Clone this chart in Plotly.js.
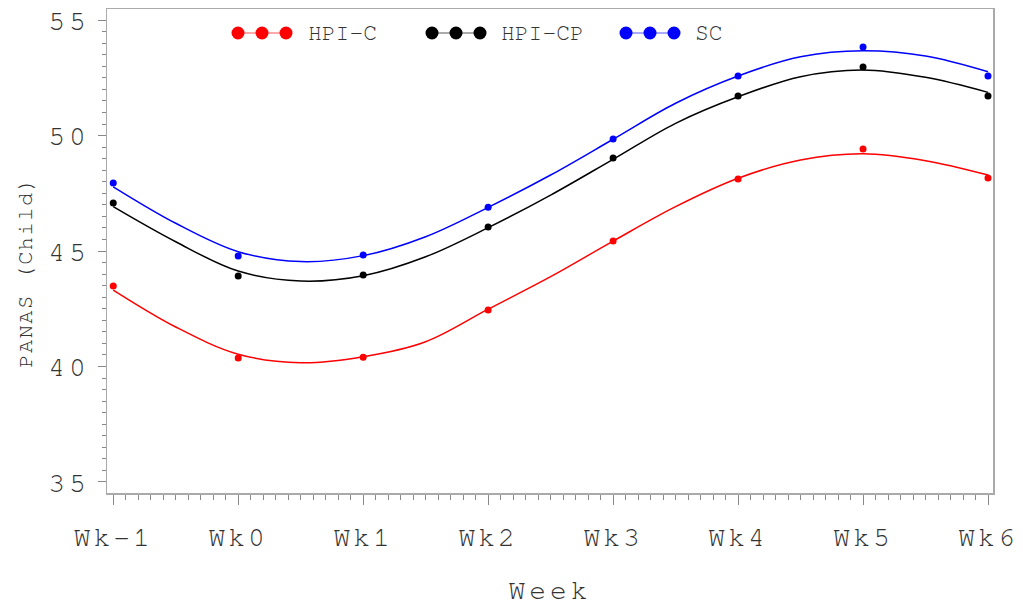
<!DOCTYPE html>
<html><head><meta charset="utf-8">
<script src="https://cdn.plot.ly/plotly-3.0.1.min.js"></script>
<style>
html,body{margin:0;padding:0;background:#fff;}
#chart{width:1023px;height:609px;}
.xtick text{letter-spacing:3px;}
.ytick text{letter-spacing:4px;}
.g-xtitle text{letter-spacing:4px;}
.annotation-text{letter-spacing:0px;}
</style></head><body><div id="chart"></div>
<script>
// Observed weekly means
const weeks = ['Wk-1','Wk0','Wk1','Wk2','Wk3','Wk4','Wk5','Wk6'];
const weekPos = [-1,0,1,2,3,4,5,6];
const hpiC  = [43.48,40.37,40.40,42.45,45.43,48.12,49.42,48.16];
const hpiCP = [47.08,43.92,43.96,46.04,49.03,51.71,52.97,51.71];
const sc    = [47.94,44.78,44.83,46.90,49.85,52.58,53.83,52.58];
// Fitted curves at half-week steps
const fitPos = [-1,-0.5,0,0.5,1,1.5,2,2.5,3,3.5,4,4.5,5,5.5,6];
const fitC  = [43.31,41.71,40.53,40.16,40.42,41.07,42.48,43.89,45.43,46.92,48.15,48.94,49.21,48.91,48.29];
const fitCP = [46.92,45.40,44.13,43.70,43.93,44.75,46.01,47.42,48.97,50.53,51.68,52.55,52.84,52.52,51.87];
const fitSC = [47.78,46.20,44.97,44.54,44.80,45.62,46.89,48.29,49.84,51.40,52.58,53.41,53.67,53.44,52.76];
const seriesNames = ['HPI-C','HPI-CP','SC'];
const yTitle = 'PANAS (Child)';
const xTitle = 'Week';

const colors = ['#ff0000','#000000','#0000ff'];
const legendLine = ['#ffaaaa','#aaaaaa','#aaaaff'];
const obs = [hpiC,hpiCP,sc];
const fits = [fitC,fitCP,fitSC];
const FONT = '"Nimbus Mono PS", "Nimbus Mono L", FreeMono, "Courier New", "Liberation Mono", monospace';
const TXT = '#333';

const traces = [];
for (let i=0;i<3;i++){
  traces.push({x:fitPos, y:fits[i], type:'scatter', mode:'lines',
    line:{color:colors[i], width:1.5, shape:'spline', smoothing:1}, showlegend:false, hoverinfo:'skip'});
  traces.push({x:weekPos, y:obs[i], type:'scatter', mode:'markers', name:seriesNames[i],
    marker:{color:colors[i], size:7}, showlegend:false});
}

// custom legend (pixel layout helpers)
const L=107, T=9, W=886, H=484;
const px = x => (x-L)/W;
const py = y => 1-(y-T)/H;
const legY = 33;
const legMarkers = [[238,262,286],[432,456,480],[626,650,674]];
const legText = [306,499,693];
const shapes = [], annotations = [];
for (let i=0;i<3;i++){
  const m = legMarkers[i];
  shapes.push({type:'line', xref:'paper', yref:'paper', x0:px(m[0]), x1:px(m[2]), y0:py(legY), y1:py(legY),
    line:{color:legendLine[i], width:2}});
  m.forEach(cx=>{
    shapes.push({type:'circle', xref:'paper', yref:'paper', xsizemode:'pixel', ysizemode:'pixel',
      xanchor:px(cx), yanchor:py(legY), x0:-6.5, x1:6.5, y0:-6.5, y1:6.5,
      fillcolor:colors[i], line:{color:colors[i], width:0}});
  });
  annotations.push({xref:'paper', yref:'paper', x:px(legText[i]), y:py(legY), xanchor:'left', yanchor:'middle',
    text:seriesNames[i], showarrow:false, font:{family:FONT, size:23, color:TXT}});
}
// y-axis title placed as rotated annotation
annotations.push({xref:'paper', yref:'paper', x:px(25), y:py(272), xanchor:'center', yanchor:'middle',
  text:yTitle, textangle:-90, showarrow:false, font:{family:FONT, size:22, color:TXT}});

const layout = {
  width:1023, height:609,
  margin:{l:L, r:30, t:T, b:116},
  paper_bgcolor:'#fff', plot_bgcolor:'#fff',
  showlegend:false,
  xaxis:{
    range:[-1.05,6.04], tickmode:'array', tickvals:weekPos, ticktext:weeks,
    ticks:'outside', ticklen:10, tickwidth:1, tickcolor:'#888',
    showline:true, linecolor:'#aaa', linewidth:1.5, mirror:true,
    showgrid:false, zeroline:false, ticklabelstandoff:8,
    minor:{tickmode:'linear', tick0:-1, dtick:0.1, ticks:'outside', ticklen:5, tickcolor:'#888', tickwidth:1, showgrid:false},
    tickfont:{family:FONT, size:28, color:TXT},
    title:{text:xTitle, font:{family:FONT, size:28, color:TXT}, standoff:28}
  },
  yaxis:{
    range:[34.52,55.48], tickmode:'linear', tick0:35, dtick:5,
    ticks:'outside', ticklen:8, tickwidth:1, tickcolor:'#888',
    showline:true, linecolor:'#aaa', linewidth:1.5, mirror:true,
    showgrid:false, zeroline:false, ticklabelstandoff:2,
    minor:{tickmode:'linear', tick0:35, dtick:0.5, ticks:'outside', ticklen:4, tickcolor:'#888', tickwidth:1, showgrid:false},
    tickfont:{family:FONT, size:28, color:TXT}
  },
  shapes:shapes, annotations:annotations
};
Plotly.newPlot('chart', traces, layout, {displayModeBar:false, staticPlot:true}).then(gd=>{
  gd.querySelectorAll('.annotation-text').forEach(t=>{
    if (t.textContent === yTitle) t.style.letterSpacing = '1.5px';
  });
});
</script></body></html>
